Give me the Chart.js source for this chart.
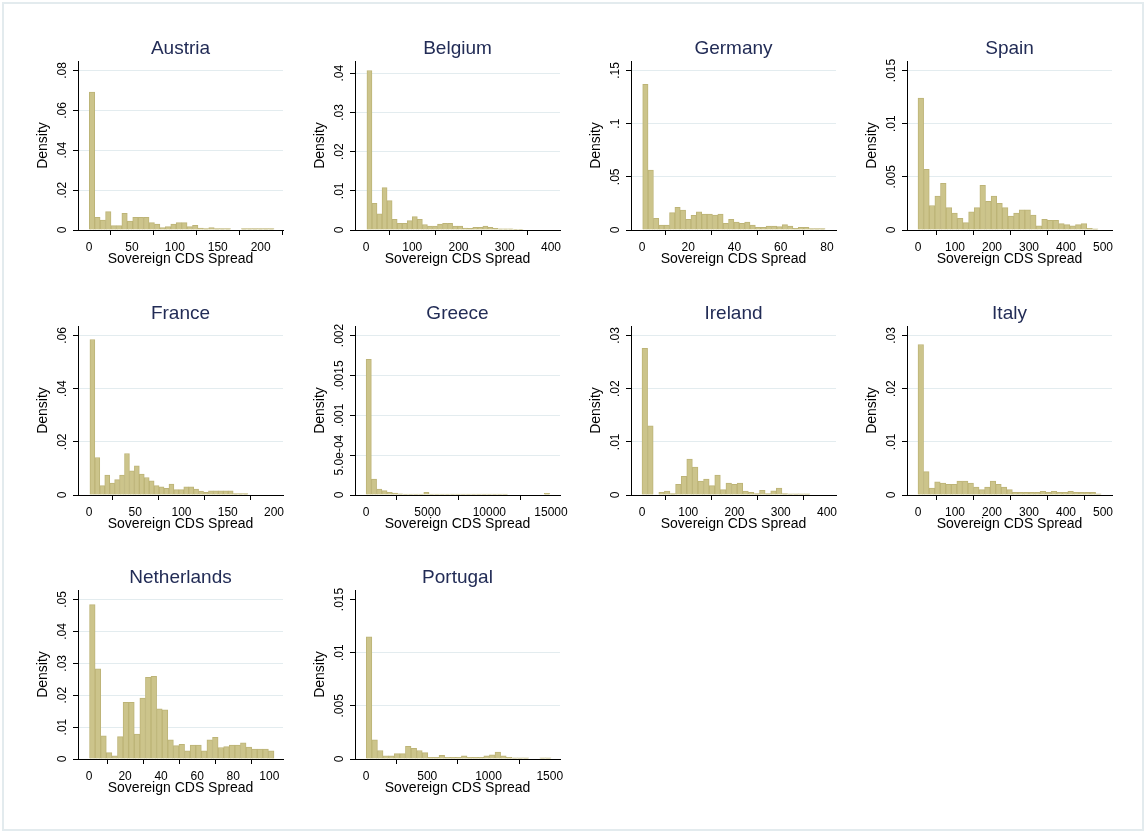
<!DOCTYPE html>
<html>
<head>
<meta charset="utf-8">
<script src="https://cdn.jsdelivr.net/npm/chart.js@4.4.0/dist/chart.umd.min.js"></script>
<style>
  html, body { margin: 0; padding: 0; background: #ffffff; }
  #frame { position: absolute; left: 2px; top: 2px; width: 1138px; height: 825px; border: 2px solid #E3EBEE; }
  .cell { position: absolute; }
</style>
</head>
<body>
<div id="frame"></div>
<div id="panels"></div>
<script>
// ---- Data: density histograms of sovereign CDS spreads by country ----
const countryNames = ['Austria', 'Belgium', 'Germany', 'Spain', 'France',
                      'Greece', 'Ireland', 'Italy', 'Netherlands', 'Portugal'];

// left edge of the first bin and common bin width (bps)
const binStartValues = [0.3, 2, 0.3, 0, 1, 10, 0, 0, 0.3, 2];
const binWidthValues = [6.33, 10.9, 2.32, 15.2, 5.34, 425, 12.1, 15, 3.1, 45.7];

const densityAustria = [.0692, .0063, .005, .0092, .0022, .0022, .0083, .0045, .0063, .0063,
  .0063, .0037, .003, .0012, .0017, .003, .0037, .0037, .0017, .0023,
  .001, .0007, .0012, .0007, .0007, .0007, 0, 0, .0007, .0007,
  .0007, .0007, .0007, .0007];
const densityBelgium = [.0407, .0068, .0041, .0108, .0075, .0027, .0017, .0017, .0024, .0034,
  .0027, .0014, .001, .001, .0015, .0017, .0017, .001, .001, .0005,
  .0004, .0007, .0007, .001, .0007, .0004, .0003, .0003, .0003, .0002, .0002];
const densityGermany = [.137, .0564, .011, .0047, .0047, .0163, .0213, .0188, .01, .0138,
  .0172, .015, .015, .014, .015, .0063, .01, .0075, .0063, .0075,
  .0047, .0025, .0025, .0038, .0038, .0031, .005, .0038, .0016, .0025,
  .0025, .0013, .0013, .0013];
const densitySpain = [.0124, .0057, .0023, .0032, .0044, .0021, .0016, .0011, .0007, .0017,
  .0021, .0042, .0027, .0032, .0025, .0021, .0013, .0016, .0019, .0019,
  .0014, .0004, .001, .0009, .0009, .0006, .0005, .0004, .0005, .0006,
  .00016, .0001];
const densityFrance = [.0585, .0141, .0035, .0075, .0045, .0058, .0075, .0156, .0091, .011,
  .0079, .0066, .0053, .0035, .0031, .0025, .0041, .002, .002, .0031,
  .0031, .0022, .0015, .001, .0016, .0016, .0016, .0016, .0016, .0005,
  .0005, .0005];
const densityGreece = [.0017, .0002, .000075, .000054, .000033, .000025, .000015, .000012, .000012, .000012,
  .000012, .000035, .000012, .000012, .000012, .000012, .000012, .000012, .000012, .000012,
  .000012, .000012, .000012, .000012, .000012, .000012, .000012, 0, 0, 0,
  0, 0, 0, 0, .00002];
const densityIreland = [.0276, .013, 0, .0005, .00075, .00025, .002, .0035, .00675, .00525,
  .0026, .003, .00175, .00375, .001, .00225, .002, .00225, .00075, .0005,
  .00025, .0009, .00025, .0008, .0013, .00025, .0002, .0002, .0002, .0002];
const densityItaly = [.0283, .0044, .0013, .0025, .00225, .002, .002, .0026, .0026, .00225,
  .0015, .001, .0015, .0026, .002, .0015, .001, .0005, .0005, .0005,
  .0005, .0005, .0007, .0005, .0007, .0005, .0005, .0007, .0005, .0005,
  .0005, .0005, .0002];
const densityNetherlands = [.0484, .0283, .0073, .002, .001, .007, .0178, .0178, .0078, .0191,
  .0256, .0259, .0157, .0154, .006, .0042, .0046, .0026, .0044, .0044,
  .0026, .006, .0068, .0036, .0039, .0044, .0044, .0051, .0037, .0031,
  .0031, .0031, .0026];
const densityPortugal = [.0115, .0018, .0008, .0003, .0003, .0005, .0005, .0012, .001, .0008,
  .0006, .00015, .00015, .00035, .00015, .00015, .00015, .0003, .00015, .00015,
  .00015, .0003, .0004, .00065, .0003, .00015, .0001, .0001, .0001, 0,
  0, .0001, .0001];

const densities = [densityAustria, densityBelgium, densityGermany, densitySpain, densityFrance,
                   densityGreece, densityIreland, densityItaly, densityNetherlands, densityPortugal];

// axis ticks (values and printed labels)
const xTickValues = [
  [0, 50, 100, 150, 200], [0, 100, 200, 300, 400], [0, 20, 40, 60, 80],
  [0, 100, 200, 300, 400, 500], [0, 50, 100, 150, 200], [0, 5000, 10000, 15000],
  [0, 100, 200, 300, 400], [0, 100, 200, 300, 400, 500], [0, 20, 40, 60, 80, 100],
  [0, 500, 1000, 1500]
];
const yTickValues = [
  [0, .02, .04, .06, .08], [0, .01, .02, .03, .04], [0, .05, .1, .15],
  [0, .005, .01, .015], [0, .02, .04, .06], [0, .0005, .001, .0015, .002],
  [0, .01, .02, .03], [0, .01, .02, .03], [0, .01, .02, .03, .04, .05],
  [0, .005, .01, .015]
];
const yTickLabels = [
  ['0', '.02', '.04', '.06', '.08'], ['0', '.01', '.02', '.03', '.04'], ['0', '.05', '.1', '.15'],
  ['0', '.005', '.01', '.015'], ['0', '.02', '.04', '.06'], ['0', '5.0e-04', '.001', '.0015', '.002'],
  ['0', '.01', '.02', '.03'], ['0', '.01', '.02', '.03'], ['0', '.01', '.02', '.03', '.04', '.05'],
  ['0', '.005', '.01', '.015']
];
// panels whose top grid line is left out
const hideTopGrid = [false, false, false, false, false, false, false, false, false, true];

// ---- Layout and style ----
const FONT = '"Liberation Sans", Arial, Helvetica, sans-serif';
const PLOT_W = 205, PLOT_H = 169;
const COL_STEP = 276.3, ROW_STEP = 264.5;
const FIRST_LEFT = 78.3, FIRST_TOP = 61;
const Y_BOX = 50, X_BOX = 44, TITLE_BOX = 32, RIGHT_PAD = 22;
const MARGIN_L = 11, MARGIN_R = 9, MARGIN_TOP = 9.5;
const BAR_FILL = '#CCC48B', BAR_LINE = '#BDB477';
const GRID = '#E3ECEF', AXIS = '#000000', TITLE_COLOR = '#222C56';

Chart.defaults.font.family = FONT;
Chart.defaults.animation = false;

const panelText = {
  id: 'panelText',
  afterDraw(chart, args, opts) {
    const { ctx, chartArea } = chart;
    const ys = chart.scales.y;
    ctx.save();
    ctx.fillStyle = TITLE_COLOR;
    ctx.font = '19px ' + FONT;
    ctx.textAlign = 'center';
    ctx.textBaseline = 'middle';
    ctx.fillText(opts.title, (chartArea.left + chartArea.right) / 2, chartArea.top - 12.5);
    ctx.fillStyle = '#000';
    ctx.font = '12px ' + FONT;
    ys.ticks.forEach((t, i) => {
      const py = ys.getPixelForValue(t.value);
      ctx.save();
      ctx.translate(chartArea.left - 15.5, py);
      ctx.rotate(-Math.PI / 2);
      ctx.fillText(opts.labels[i], 0, 0);
      ctx.restore();
    });
    ctx.restore();
  }
};

const host = document.getElementById('panels');

countryNames.forEach((name, p) => {
  const col = p % 4, row = Math.floor(p / 4);
  const L = Math.round(FIRST_LEFT + COL_STEP * col);
  const T = Math.round(FIRST_TOP + ROW_STEP * row);
  const W = Y_BOX + PLOT_W + RIGHT_PAD, H = TITLE_BOX + PLOT_H + X_BOX;

  const cell = document.createElement('div');
  cell.className = 'cell';
  cell.style.left = (L - Y_BOX) + 'px';
  cell.style.top = (T - TITLE_BOX) + 'px';
  cell.style.width = W + 'px';
  cell.style.height = H + 'px';
  const cv = document.createElement('canvas');
  cell.appendChild(cv);
  host.appendChild(cell);

  const d = densities[p], x0 = binStartValues[p], w = binWidthValues[p];
  const pts = d.map((v, i) => ({ x: x0 + (i + 0.5) * w, y: v }));

  // x range: data/tick extent plus fixed pixel margins
  const xt = xTickValues[p], yt = yTickValues[p];
  const a = Math.min(x0, xt[0]), b = Math.max(x0 + d.length * w, xt[xt.length - 1]);
  const k = (PLOT_W - MARGIN_L - MARGIN_R) / (b - a);
  const xmin = a - MARGIN_L / k, xmax = b + MARGIN_R / k;
  const top = Math.max(Math.max(...d), yt[yt.length - 1]);
  const ymax = top * PLOT_H / (PLOT_H - MARGIN_TOP);
  const topTick = yt[yt.length - 1];

  new Chart(cv, {
    type: 'bar',
    data: {
      datasets: [{
        data: pts,
        backgroundColor: BAR_FILL,
        borderColor: BAR_LINE,
        borderWidth: 1,
        borderSkipped: 'start',
        barPercentage: 1,
        categoryPercentage: 1
      }]
    },
    options: {
      responsive: true,
      maintainAspectRatio: false,
      layout: { padding: { left: 0, right: RIGHT_PAD, top: TITLE_BOX, bottom: 0 } },
      plugins: {
        legend: { display: false },
        tooltip: { enabled: false },
        title: { display: false },
        panelText: { title: name, labels: yTickLabels[p] }
      },
      scales: {
        x: {
          type: 'linear',
          min: xmin,
          max: xmax,
          offset: false,
          afterBuildTicks: s => { s.ticks = xt.map(v => ({ value: v })); },
          afterFit: s => { s.height = X_BOX; },
          ticks: {
            autoSkip: false, maxRotation: 0, minRotation: 0,
            color: '#000', font: { size: 12 }, padding: 5,
            callback: (v, i) => String(xt[i])
          },
          grid: { drawOnChartArea: false, drawTicks: true, tickLength: 5, tickColor: AXIS },
          border: { display: true, color: AXIS, width: 1 },
          title: {
            display: true, text: 'Sovereign CDS Spread', color: '#000',
            font: { size: 14 }, padding: { top: 0, bottom: 6 }
          }
        },
        y: {
          type: 'linear',
          min: 0,
          max: ymax,
          afterBuildTicks: s => { s.ticks = yt.map(v => ({ value: v })); },
          afterFit: s => { s.width = Y_BOX; },
          ticks: { display: false },
          grid: {
            drawTicks: true, tickLength: 5, tickColor: AXIS, lineWidth: 1,
            color: c => (hideTopGrid[p] && c.tick && c.tick.value === topTick) ? 'rgba(0,0,0,0)' : GRID
          },
          border: { display: true, color: AXIS, width: 1 },
          title: {
            display: true, text: 'Density', color: '#000',
            font: { size: 14 }, padding: { top: 6.5, bottom: 0 }
          }
        }
      }
    },
    plugins: [panelText]
  });
});
</script>
</body>
</html>
